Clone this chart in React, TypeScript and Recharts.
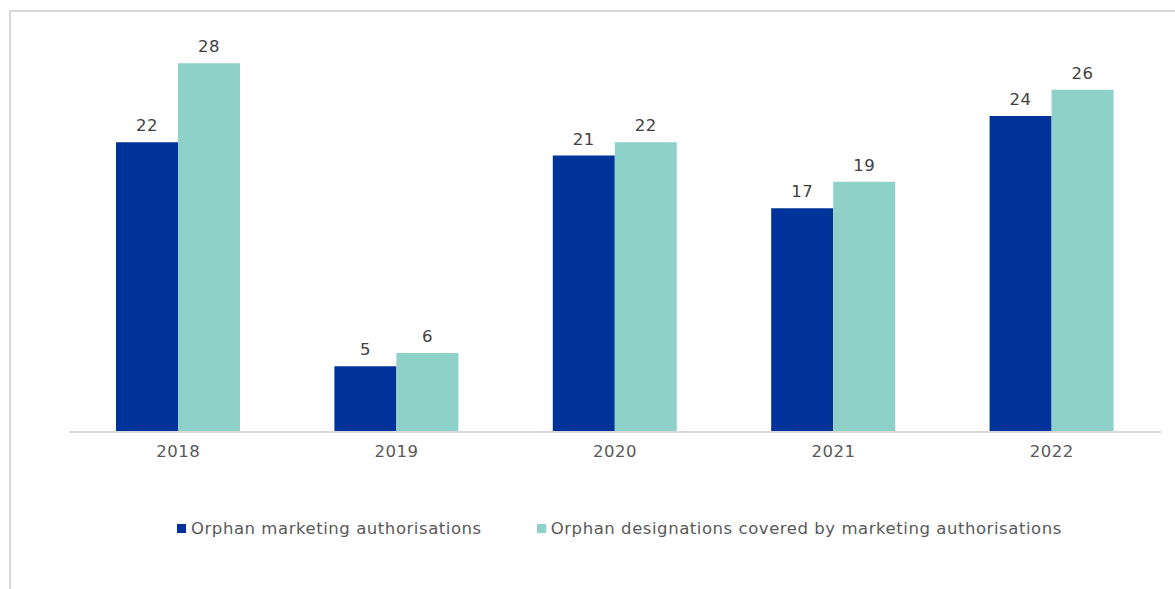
import React from "react";
import { BarChart, Bar, XAxis, YAxis, LabelList, Legend } from "recharts";

const years = ["2018", "2019", "2020", "2021", "2022"];
const orphanMA = [22, 5, 21, 17, 24];
const orphanDesignations = [28, 6, 22, 19, 26];
const seriesNames = [
  "Orphan marketing authorisations",
  "Orphan designations covered by marketing authorisations",
];
const colors = ["#003399", "#8DD1C9"];

const data = years.map((y, i) => ({
  year: y,
  ma: orphanMA[i],
  des: orphanDesignations[i],
}));

const FONT = "'DejaVu Sans', Verdana, sans-serif";

const LegendContent = () => (
  <div style={{ display: "flex", alignItems: "center", fontFamily: FONT, fontSize: 16.5, letterSpacing: 0.55, color: "#595959", whiteSpace: "nowrap" }}>
    {seriesNames.map((n, i) => (
      <div key={n} style={{ display: "flex", alignItems: "center", marginRight: i === 0 ? 55 : 0 }}>
        <span style={{ display: "inline-block", width: 9, height: 9, background: colors[i], marginRight: 5 }} />
        <span>{n}</span>
      </div>
    ))}
  </div>
);

export default function App() {
  return (
    <div style={{ position: "absolute", left: 0, top: 0, width: 1175, height: 589, background: "#fff" }}>
      <div style={{ position: "absolute", left: 9, top: 10, width: 1166, height: 579, borderTop: "2px solid #d9d9d9", borderLeft: "2px solid #d9d9d9", boxSizing: "border-box" }} />
      <BarChart
        width={1175}
        height={589}
        data={data}
        margin={{ top: 37, right: 14, bottom: 127, left: 69 }}
        barCategoryGap={47}
        barGap={0}
      >
        <XAxis
          dataKey="year"
          tickLine={false}
          axisLine={{ stroke: "#d9d9d9", strokeWidth: 2 }}
          tick={{ fill: "#595959", fontSize: 16.5, fontFamily: FONT, letterSpacing: 0.5 }}
          tickMargin={7}
          height={30}
        />
        <YAxis hide domain={[0, 30]} width={0} />
        <Legend
          verticalAlign="middle"
          align="center"
          layout="horizontal"
          content={<LegendContent />}
          wrapperStyle={{ position: "absolute", left: 177, top: 519, width: 1000 }}
        />
        <Bar dataKey="ma" name={seriesNames[0]} fill={colors[0]} isAnimationActive={false}>
          <LabelList dataKey="ma" position="top" offset={11} fill="#404040" fontSize={16.5} fontFamily={FONT} letterSpacing={0.5} />
        </Bar>
        <Bar dataKey="des" name={seriesNames[1]} fill={colors[1]} isAnimationActive={false}>
          <LabelList dataKey="des" position="top" offset={11} fill="#404040" fontSize={16.5} fontFamily={FONT} letterSpacing={0.5} />
        </Bar>
      </BarChart>
    </div>
  );
}
